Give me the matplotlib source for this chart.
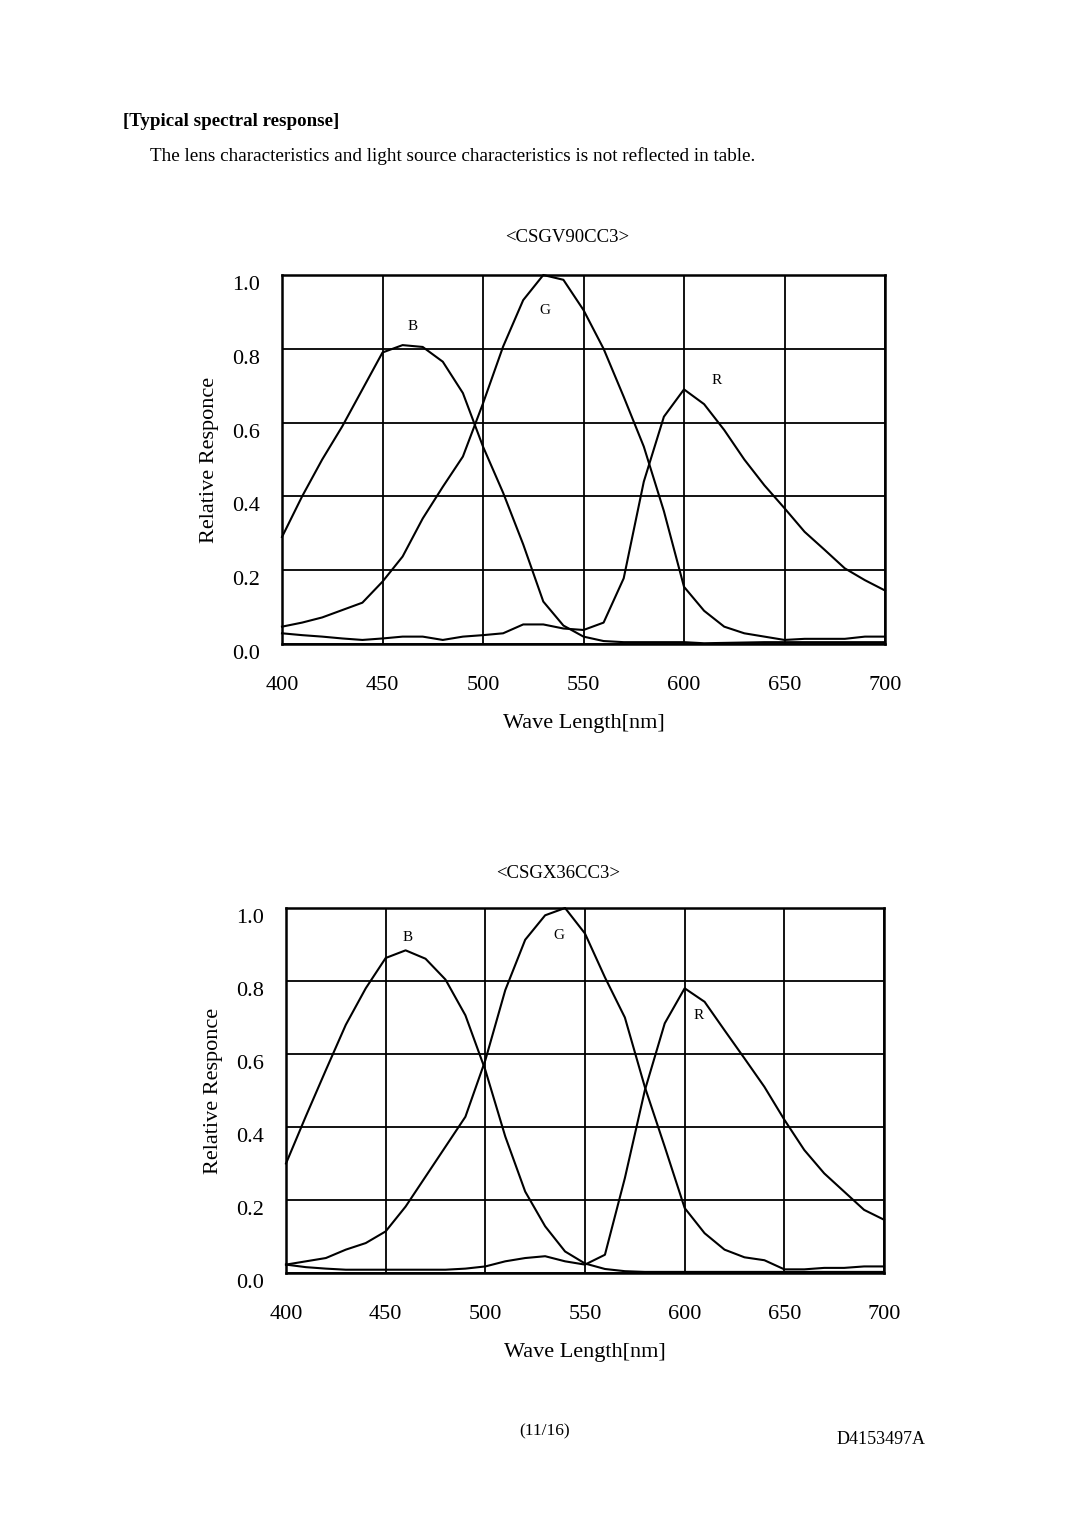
import matplotlib
matplotlib.use("Agg")
import matplotlib.pyplot as plt
import matplotlib.transforms as mtransforms

plt.rcParams["font.family"] = ["Liberation Serif", "DejaVu Serif"]

wavelength = [400, 410, 420, 430, 440, 450, 460, 470, 480, 490, 500,
              510, 520, 530, 540, 550, 560, 570, 580, 590, 600,
              610, 620, 630, 640, 650, 660, 670, 680, 690, 700]

# <CSGV90CC3>
v90_b = [0.29, 0.40, 0.50, 0.59, 0.69, 0.79, 0.81, 0.805, 0.765, 0.68, 0.535,
         0.41, 0.27, 0.115, 0.05, 0.02, 0.008, 0.005, 0.005, 0.005, 0.005,
         0.002, 0.003, 0.004, 0.005, 0.005, 0.005, 0.005, 0.005, 0.005, 0.005]
v90_g = [0.047, 0.058, 0.072, 0.092, 0.112, 0.169, 0.237, 0.34, 0.426, 0.508, 0.652,
         0.806, 0.932, 1.0, 0.987, 0.905, 0.80, 0.67, 0.535, 0.36, 0.155,
         0.09, 0.047, 0.029, 0.02, 0.011, 0.014, 0.014, 0.014, 0.02, 0.02]
v90_r = [0.029, 0.024, 0.02, 0.015, 0.011, 0.015, 0.02, 0.02, 0.011, 0.02, 0.024,
         0.029, 0.053, 0.053, 0.042, 0.038, 0.058, 0.178, 0.44, 0.616, 0.69,
         0.65, 0.58, 0.50, 0.43, 0.368, 0.304, 0.255, 0.205, 0.173, 0.145]

# <CSGX36CC3>
x36_b = [0.30, 0.43, 0.556, 0.68, 0.78, 0.863, 0.884, 0.861, 0.804, 0.706, 0.556,
         0.374, 0.223, 0.128, 0.059, 0.026, 0.011, 0.005, 0.003, 0.003, 0.003,
         0.003, 0.003, 0.003, 0.003, 0.003, 0.003, 0.003, 0.003, 0.003, 0.003]
x36_g = [0.023, 0.032, 0.041, 0.064, 0.082, 0.114, 0.182, 0.264, 0.346, 0.428, 0.583,
         0.775, 0.913, 0.98, 1.0, 0.93, 0.81, 0.70, 0.51, 0.346, 0.178,
         0.109, 0.064, 0.043, 0.035, 0.01, 0.01, 0.014, 0.014, 0.018, 0.018]
x36_r = [0.023, 0.016, 0.012, 0.009, 0.009, 0.009, 0.009, 0.009, 0.009, 0.012, 0.018,
         0.032, 0.041, 0.046, 0.032, 0.023, 0.05, 0.26, 0.50, 0.684, 0.78,
         0.743, 0.665, 0.588, 0.51, 0.42, 0.337, 0.273, 0.223, 0.173, 0.146]

x_ticks = [400, 450, 500, 550, 600, 650, 700]
y_ticks = [0.0, 0.2, 0.4, 0.6, 0.8, 1.0]

W, H = 1080, 1528
fig = plt.figure(figsize=(W / 100, H / 100), dpi=100)


def px_axes(left, top, right, bottom):
    return fig.add_axes([left / W, 1 - bottom / H, (right - left) / W, (bottom - top) / H])


def draw_panel(ax, b, g, r, labels):
    for series in (b, g, r):
        ax.plot(wavelength, series, color="black", lw=1.5, clip_on=False)
    ax.set_xlim(400, 700)
    ax.set_ylim(0, 1.0)
    ax.set_xticks(x_ticks)
    ax.set_yticks(y_ticks)
    ax.set_yticklabels([f"{v:.1f}" for v in y_ticks])
    ax.grid(True, color="black", lw=1.3)
    ax.tick_params(axis="both", length=0, labelsize=16)
    ax.tick_params(axis="x", pad=23)
    ax.tick_params(axis="y", pad=16)
    offset = mtransforms.ScaledTranslation(0, -8 / 100, fig.dpi_scale_trans)
    for lbl in ax.get_yticklabels():
        lbl.set_transform(lbl.get_transform() + offset)
    for s in ax.spines.values():
        s.set_linewidth(1.8)
    ax.set_xlabel("Wave Length[nm]", fontsize=16, labelpad=14)
    ax.set_ylabel("Relative Responce", fontsize=16, labelpad=9)
    for text, x, y in labels:
        ax.text(x, y, text, fontsize=11, ha="center", va="center")


ax1 = px_axes(282, 275, 885, 644)
draw_panel(ax1, v90_b, v90_g, v90_r,
           [("B", 465, 0.86), ("G", 531, 0.905), ("R", 616, 0.715)])
fig.text(567 / W, 1 - 237 / H, "<CSGV90CC3>", fontsize=13.5, ha="center", va="center")

ax2 = px_axes(286, 908, 884, 1273)
draw_panel(ax2, x36_b, x36_g, x36_r,
           [("B", 461, 0.92), ("G", 537, 0.925), ("R", 607, 0.705)])
fig.text(558 / W, 1 - 874 / H, "<CSGX36CC3>", fontsize=13.5, ha="center", va="center")

fig.text(123 / W, 1 - 122 / H, "[Typical spectral response]", fontsize=13.6,
         fontweight="bold", ha="left", va="center")
fig.text(150 / W, 1 - 156 / H,
         "The lens characteristics and light source characteristics is not reflected in table.",
         fontsize=13.8, ha="left", va="center")
fig.text(545 / W, 1 - 1431 / H, "(11/16)", fontsize=12.5, ha="center", va="center")
fig.text(926 / W, 1 - 1440 / H, "D4153497A", fontsize=13, ha="right", va="center")

fig.savefig("out.png", dpi=100, facecolor="white")
